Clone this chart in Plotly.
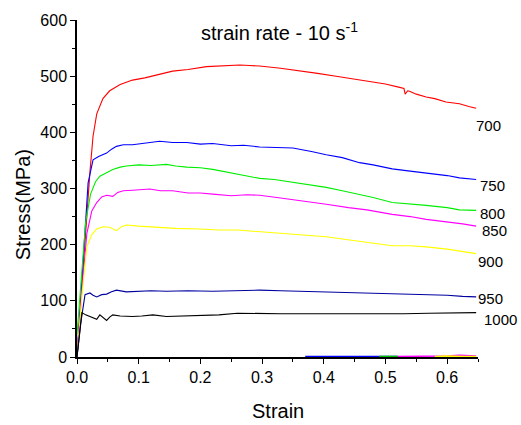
import plotly.graph_objects as go

# strain / stress data
s700 = [0, 0.008, 0.016, 0.021, 0.026, 0.032, 0.042, 0.053, 0.07, 0.09, 0.11, 0.123, 0.14, 0.155, 0.18, 0.21, 0.24, 0.264, 0.28, 0.296, 0.33, 0.366, 0.39, 0.42, 0.45, 0.474, 0.5, 0.523, 0.53, 0.532, 0.536, 0.539, 0.55, 0.566, 0.58, 0.598, 0.62, 0.635, 0.647]
y700 = [0, 130, 254, 330, 393, 433, 460, 474, 485, 493, 497, 500, 505, 509, 512, 517, 518, 520, 519, 518, 514, 509, 505, 500, 495, 491, 486, 480, 478, 468, 474, 473, 468, 463, 460, 454, 451, 446, 443]

s750 = [0, 0.01, 0.018, 0.026, 0.035, 0.048, 0.056, 0.064, 0.075, 0.09, 0.11, 0.134, 0.155, 0.178, 0.2, 0.22, 0.25, 0.27, 0.296, 0.32, 0.35, 0.38, 0.404, 0.43, 0.458, 0.48, 0.511, 0.54, 0.566, 0.6, 0.62, 0.647]
y750 = [0, 180, 310, 351, 357, 363, 370, 375, 378, 378, 381, 384, 382, 382, 379, 380, 376, 377, 374, 373, 372, 366, 360, 355, 346, 342, 335, 331, 328, 323, 319, 316]

s800 = [0, 0.006, 0.014, 0.022, 0.03, 0.037, 0.048, 0.058, 0.07, 0.08, 0.1, 0.12, 0.145, 0.16, 0.178, 0.2, 0.22, 0.24, 0.264, 0.28, 0.296, 0.32, 0.35, 0.38, 0.404, 0.43, 0.458, 0.48, 0.511, 0.54, 0.566, 0.6, 0.62, 0.647]
y800 = [40, 120, 240, 290, 312, 322, 329, 334, 338, 340, 342, 341, 343, 340, 338, 337, 334, 330, 325, 322, 318, 316, 311, 306, 302, 296, 290, 284, 275, 273, 270, 266, 262, 261]

s850 = [0, 0.008, 0.016, 0.024, 0.032, 0.04, 0.048, 0.058, 0.066, 0.075, 0.09, 0.118, 0.135, 0.155, 0.18, 0.2, 0.22, 0.25, 0.275, 0.296, 0.33, 0.36, 0.404, 0.44, 0.47, 0.511, 0.54, 0.566, 0.6, 0.625, 0.647]
y850 = [0, 120, 220, 260, 275, 285, 288, 286, 293, 296, 297, 299, 296, 296, 292, 292, 290, 287, 289, 288, 283, 279, 272, 266, 262, 254, 250, 245, 241, 237, 233]

s900 = [0, 0.008, 0.016, 0.024, 0.032, 0.042, 0.053, 0.064, 0.072, 0.08, 0.1, 0.134, 0.16, 0.2, 0.23, 0.26, 0.296, 0.33, 0.36, 0.404, 0.43, 0.46, 0.49, 0.511, 0.54, 0.566, 0.6, 0.625, 0.647]
y900 = [0, 110, 196, 218, 228, 232, 231, 225, 232, 235, 233, 231, 229, 228, 226, 226, 223, 220, 218, 214, 210, 206, 201, 198, 198, 196, 192, 188, 184]

s950 = [0, 0.006, 0.013, 0.021, 0.026, 0.032, 0.04, 0.048, 0.056, 0.064, 0.08, 0.1, 0.12, 0.145, 0.18, 0.22, 0.26, 0.296, 0.33, 0.37, 0.404, 0.44, 0.48, 0.511, 0.55, 0.6, 0.625, 0.647]
y950 = [0, 60, 111, 114, 110, 107, 111, 112, 116, 119, 116, 117, 118, 117, 118, 117, 118, 119, 118, 117, 116, 115, 114, 113, 112, 110, 108, 107]

s1000 = [0, 0.004, 0.008, 0.014, 0.021, 0.026, 0.032, 0.037, 0.042, 0.048, 0.053, 0.058, 0.07, 0.09, 0.105, 0.123, 0.145, 0.17, 0.2, 0.23, 0.26, 0.296, 0.33, 0.37, 0.41, 0.45, 0.49, 0.53, 0.57, 0.61, 0.647]
y1000 = [0, 40, 79, 75, 72, 70, 67, 75, 70, 65, 71, 75, 73, 72, 73, 75, 72, 73, 74, 75, 78, 77, 77, 77, 77, 76, 77, 77, 78, 78, 79]

# post-fracture tails near zero stress
tails = [
    ("#0000ff", [0.37, 0.52], [1, 1]),
    ("#00c000", [0.49, 0.52], [1, 1]),
    ("#ff00ff", [0.52, 0.57, 0.6, 0.62, 0.647], [1, 1, 2, 3, 2]),
    ("#ffff00", [0.58, 0.6, 0.63, 0.647], [1, 2, 1, 1]),
]

temps = ["700", "750", "800", "850", "900", "950", "1000"]
colors = ["#ff0000", "#0000ff", "#00ee00", "#ff00ff", "#ffff00", "#00009f", "#000000"]
xs = [s700, s750, s800, s850, s900, s950, s1000]
ys = [y700, y750, y800, y850, y900, y950, y1000]
# label anchor values (strain, stress)
label_stress = [412, 305, 256, 226, 170, 105, 67]
label_strain = [0.667, 0.673, 0.673, 0.676, 0.671, 0.671, 0.686]

XMAX, YMAX = 0.65, 600
FONT = "Liberation Sans, Arial"

fig = go.Figure()
for c, tx, ty in tails:
    fig.add_trace(go.Scatter(x=tx, y=ty, mode="lines", line=dict(color=c, width=1.5),
                             showlegend=False, hoverinfo="skip"))
for t, c, x, y in zip(temps, colors, xs, ys):
    fig.add_trace(go.Scatter(x=x, y=y, mode="lines", line=dict(color=c, width=1.1),
                             name=t, showlegend=False))

for t, ly, lx in zip(temps, label_stress, label_strain):
    fig.add_annotation(x=lx / XMAX, y=ly / YMAX, xref="paper", yref="paper", text=t,
                       showarrow=False, xanchor="center", yanchor="middle",
                       font=dict(family=FONT, size=15, color="#000"))

fig.add_annotation(x=0.3285, y=579, xref="x", yref="y",
                   text="strain rate - 10 s<sup>-1</sup>", showarrow=False,
                   font=dict(family=FONT, size=20, color="#000"))

# axis titles
fig.add_annotation(x=-0.135, y=0.453, xref="paper", yref="paper", text="Stress(MPa)",
                   textangle=-90, showarrow=False, xanchor="center", yanchor="middle",
                   font=dict(family=FONT, size=20, color="#000"))
fig.add_annotation(x=0.5, y=-0.161, xref="paper", yref="paper", text="Strain",
                   showarrow=False, xanchor="center", yanchor="middle",
                   font=dict(family=FONT, size=20, color="#000"))

axis_common = dict(showline=True, linecolor="#000", linewidth=1.5, ticks="outside",
                   ticklen=5, tickwidth=1.2, tickcolor="#000", showgrid=False, zeroline=False,
                   tickfont=dict(family=FONT, size=16, color="#000"),
                   mirror=False)

fig.update_layout(
    width=521, height=425,
    margin=dict(l=77, r=43, t=15, b=68),
    paper_bgcolor="white", plot_bgcolor="white",
    xaxis=dict(range=[0, XMAX], tickvals=[0, 0.1, 0.2, 0.3, 0.4, 0.5, 0.6],
               ticktext=["0.0", "0.1", "0.2", "0.3", "0.4", "0.5", "0.6"],
               minor=dict(dtick=0.05, tick0=0, ticks="outside", ticklen=3, tickcolor="#000"),
               **axis_common),
    yaxis=dict(range=[0, YMAX], dtick=100, tick0=0,
               minor=dict(dtick=50, tick0=0, ticks="outside", ticklen=3, tickcolor="#000"),
               **axis_common),
    font=dict(family=FONT),
)

fig.write_html("out.html")
